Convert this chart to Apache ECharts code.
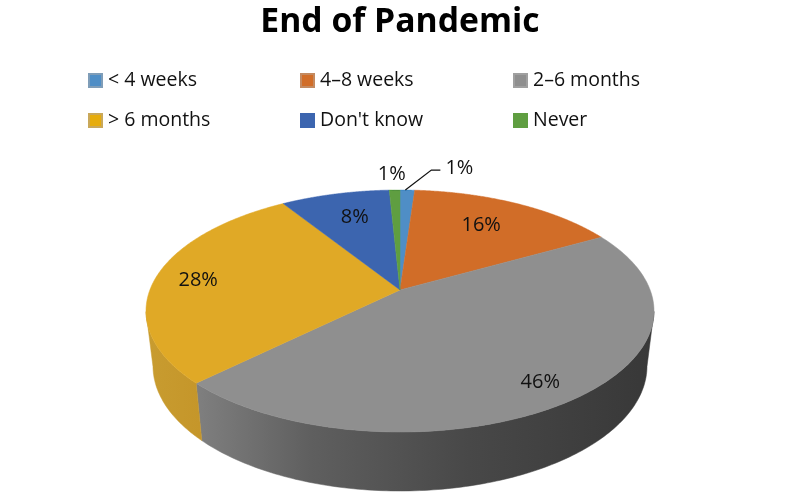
<!DOCTYPE html>
<html>
<head>
<meta charset="utf-8">
<style>html,body{margin:0;padding:0;background:#fff}#c{width:800px;height:495px}</style>
<script src="https://cdn.jsdelivr.net/npm/echarts@6/dist/echarts.min.js"></script>
</head>
<body>
<div id="c"></div>
<script>
const categories = ['< 4 weeks', '4–8 weeks', '2–6 months', '> 6 months', "Don't know", 'Never'];
const shares = [1.1, 15.8, 45.8, 28.3, 8.2, 0.8];
const titleText = 'End of Pandemic';

// Appearance and layout, kept apart from the data
const faceColors = ['#4F8EC6', '#D16D28', '#8F8F8F', '#E0A926', '#3C65AF', '#5F9E41'];
const legendColors = ['#4F8EC6', '#D16D28', '#8F8F8F', '#E6AC0C', '#3C65AF', '#5F9E41'];
const legendBorders = ['#7F9DB8', '#C48A60', '#A0A0A0', '#C9A85A', '#3C65AF', '#5F9E41'];
const top3D = {cx: 400, cy: 311, rx: 254, ry: 121, e: 0.174};
const bottom3D = {cx: 400, cy: 366, rx: 247, ry: 125, e: 0.174};
const labelRadius = [null, 0.71, 0.85, 0.826, 0.727, 1.19];
const labelNudge = [[0, 1], [-5, -1], [-4, 2], [0, 1], [4, 0], [-2, 0]];
const callout = {elbow: [24, -20], end: [33, -20], text: [52, -23]};
const FONT = '"Open Sans", "Noto Sans", sans-serif';

const total = shares.reduce((a, b) => a + b, 0);
function project(g, t, r) {
  const u = r * Math.sin(t), v = -r * Math.cos(t);
  const d = 1 - g.e * v, s = Math.sqrt(1 - g.e * g.e);
  return [g.cx + g.rx * u * s / d, g.cy + g.ry * (v - g.e) / d];
}
function sweep(i) {
  let before = 0;
  for (let k = 0; k < i; k++) before += shares[k];
  return [before / total * 2 * Math.PI, (before + shares[i]) / total * 2 * Math.PI];
}
function wallFill(i) {
  if (i === 2) {
    return new echarts.graphic.LinearGradient(197, 0, 650, 0, [
      {offset: 0, color: '#7F7F7F'}, {offset: 0.25, color: '#5F5F5F'},
      {offset: 0.6, color: '#484848'}, {offset: 1, color: '#383838'}
    ], true);
  }
  return new echarts.graphic.LinearGradient(146, 0, 200, 0, [
    {offset: 0, color: '#C89C30'}, {offset: 1, color: '#C5962A'}
  ], true);
}
function renderSlice(i) {
  return function () {
    const [a, b] = sweep(i);
    const steps = 180, children = [];
    const arc = [], upper = [], lower = [];
    for (let k = 0; k <= steps; k++) {
      const t = a + (b - a) * k / steps;
      arc.push(project(top3D, t, 1));
      if (-Math.cos(t) >= top3D.e) {
        upper.push(project(top3D, t, 1));
        lower.push(project(bottom3D, t, 1));
      }
    }
    if (upper.length > 1) {
      const f = wallFill(i);
      children.push({type: 'polygon', shape: {points: upper.concat(lower.reverse())},
        style: {fill: f, stroke: f, lineWidth: 0.5}, silent: true});
    }
    children.push({type: 'polygon', shape: {points: [project(top3D, 0, 0)].concat(arc)},
      style: {fill: faceColors[i], stroke: faceColors[i], lineWidth: 0.5}, silent: true});
    const mid = (a + b) / 2, text = Math.round(shares[i]) + '%';
    let pos;
    if (labelRadius[i] === null) {
      const p = project(top3D, mid, 1);
      children.push({type: 'polyline', z2: 20, silent: true,
        shape: {points: [[p[0] - 2, p[1]],
          [p[0] + callout.elbow[0], p[1] + callout.elbow[1]],
          [p[0] + callout.end[0], p[1] + callout.end[1]]]},
        style: {fill: null, stroke: '#111', lineWidth: 1.2}});
      pos = [p[0] + callout.text[0], p[1] + callout.text[1]];
    } else {
      pos = project(top3D, mid, labelRadius[i]);
    }
    children.push({type: 'text', z2: 30, silent: true,
      x: pos[0] + labelNudge[i][0], y: pos[1] + labelNudge[i][1],
      style: {text: text, fill: '#111', font: '20px ' + FONT, align: 'center', verticalAlign: 'middle'}});
    return {type: 'group', children: children};
  };
}
const seriesList = categories.map((name, i) => ({
  type: 'custom', name: name, coordinateSystem: 'none', silent: true,
  data: [shares[i]], renderItem: renderSlice(i),
  itemStyle: {color: legendColors[i], borderColor: legendBorders[i], borderWidth: 1}
}));
const legendAt = (left, names) => ({
  orient: 'vertical', left: left, top: 68, itemWidth: 13, itemHeight: 13, itemGap: 15,
  selectedMode: false, icon: 'rect', data: names, padding: 0,
  textStyle: {color: '#111', fontFamily: FONT, fontSize: 19.5, padding: [0, 0, 0, 1], height: 25, lineHeight: 25}
});
const chart = echarts.init(document.getElementById('c'), null, {renderer: 'canvas'});
chart.setOption({
  animation: false,
  backgroundColor: '#fff',
  title: {text: titleText, left: 'center', top: 0,
    textStyle: {color: '#000', fontFamily: FONT, fontWeight: 'bold', fontSize: 33.7}},
  legend: [
    legendAt(88, [categories[0], categories[3]]),
    legendAt(300, [categories[1], categories[4]]),
    legendAt(513, [categories[2], categories[5]])
  ],
  series: seriesList
});
</script>
</body>
</html>
